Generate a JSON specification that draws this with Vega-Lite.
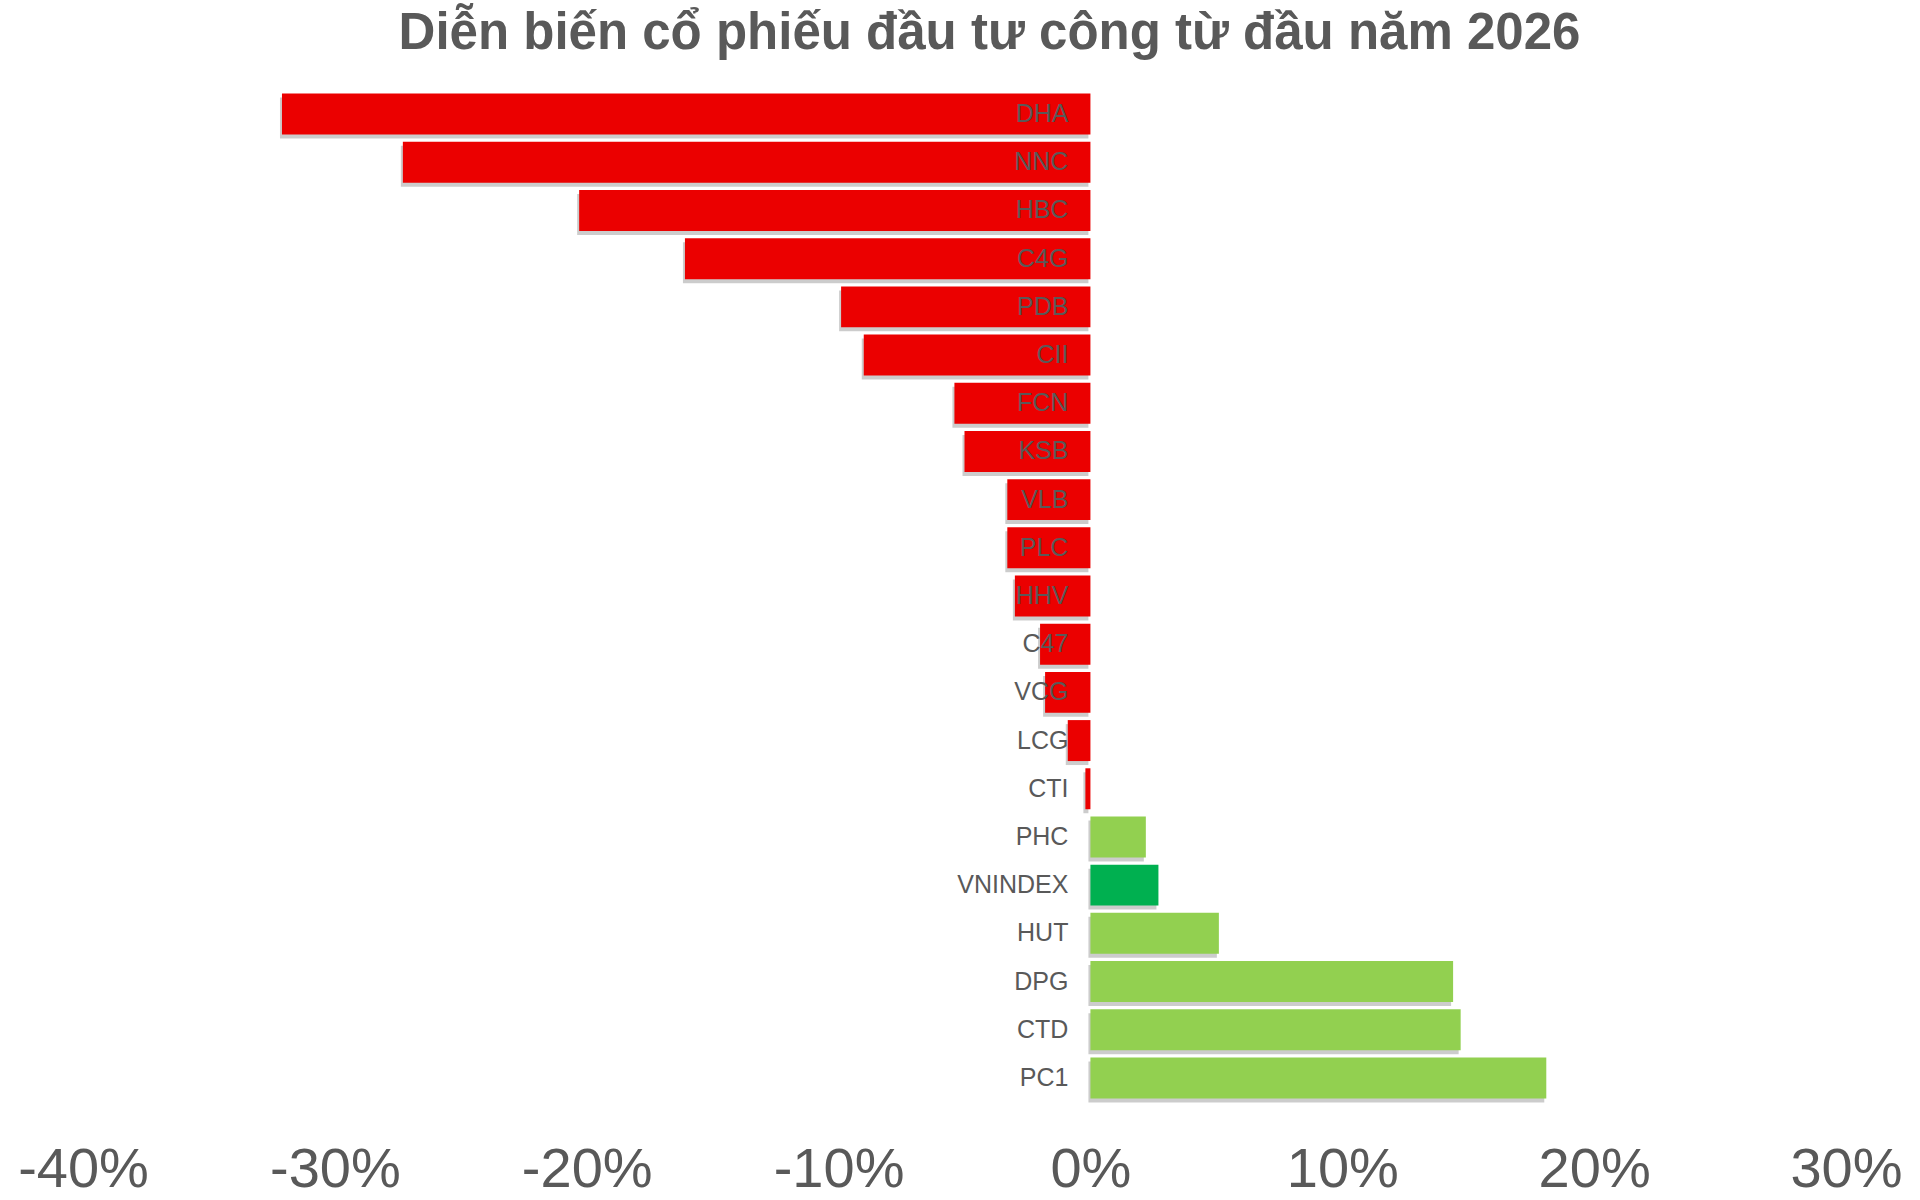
{
  "$schema": "https://vega.github.io/schema/vega-lite/v6.json",
  "autosize": "none",
  "width": 1763,
  "height": 1012,
  "padding": {"left": 83, "top": 90, "right": 74, "bottom": 98},
  "background": "white",
  "title": {
    "text": "Diễn biến cổ phiếu đầu tư công từ đầu năm 2026",
    "font": "Liberation Sans",
    "fontSize": 51,
    "fontWeight": "bold",
    "color": "#595959",
    "anchor": "middle",
    "frame": "group",
    "dx": 25,
    "offset": 30
  },
  "config": {
    "view": {"stroke": null},
    "font": "Liberation Sans"
  },
  "data": {
    "values": [
      {"ticker": "DHA", "change": -0.321, "group": "down"},
      {"ticker": "NNC", "change": -0.273, "group": "down"},
      {"ticker": "HBC", "change": -0.203, "group": "down"},
      {"ticker": "C4G", "change": -0.161, "group": "down"},
      {"ticker": "PDB", "change": -0.099, "group": "down"},
      {"ticker": "CII", "change": -0.090, "group": "down"},
      {"ticker": "FCN", "change": -0.054, "group": "down"},
      {"ticker": "KSB", "change": -0.050, "group": "down"},
      {"ticker": "VLB", "change": -0.033, "group": "down"},
      {"ticker": "PLC", "change": -0.033, "group": "down"},
      {"ticker": "HHV", "change": -0.030, "group": "down"},
      {"ticker": "C47", "change": -0.020, "group": "down"},
      {"ticker": "VCG", "change": -0.018, "group": "down"},
      {"ticker": "LCG", "change": -0.009, "group": "down"},
      {"ticker": "CTI", "change": -0.002, "group": "down"},
      {"ticker": "PHC", "change": 0.022, "group": "up"},
      {"ticker": "VNINDEX", "change": 0.027, "group": "index"},
      {"ticker": "HUT", "change": 0.051, "group": "up"},
      {"ticker": "DPG", "change": 0.144, "group": "up"},
      {"ticker": "CTD", "change": 0.147, "group": "up"},
      {"ticker": "PC1", "change": 0.181, "group": "up"}
    ]
  },
  "encoding": {
    "y": {
      "field": "ticker",
      "type": "nominal",
      "sort": null,
      "axis": null,
      "scale": {"paddingInner": 0.15, "paddingOuter": 0.075}
    }
  },
  "layer": [
    {
      "mark": {"type": "bar", "color": "#000000", "opacity": 0.2, "yOffset": 4, "xOffset": -2},
      "encoding": {
        "x": {"field": "change", "type": "quantitative"}
      }
    },
    {
      "mark": {"type": "bar"},
      "encoding": {
        "x": {
          "field": "change",
          "type": "quantitative",
          "scale": {"domain": [-0.4, 0.3], "nice": false, "zero": false},
          "axis": {
            "values": [-0.4, -0.3, -0.2, -0.1, 0, 0.1, 0.2, 0.3],
            "format": ".0%",
            "labelExpr": "replace(datum.label, '−', '-')",
            "title": null,
            "grid": false,
            "domain": false,
            "ticks": false,
            "labelFontSize": 56,
            "labelColor": "#595959",
            "labelPadding": 40,
            "labelFlush": false
          }
        },
        "color": {
          "field": "group",
          "type": "nominal",
          "scale": {"domain": ["down", "up", "index"], "range": ["#EB0000", "#92D050", "#00B050"]},
          "legend": null
        }
      }
    },
    {
      "mark": {"type": "text", "align": "right", "baseline": "middle", "dx": -22, "fontSize": 25, "color": "#595959"},
      "encoding": {
        "x": {"datum": 0, "type": "quantitative"},
        "text": {"field": "ticker", "type": "nominal"}
      }
    }
  ]
}
